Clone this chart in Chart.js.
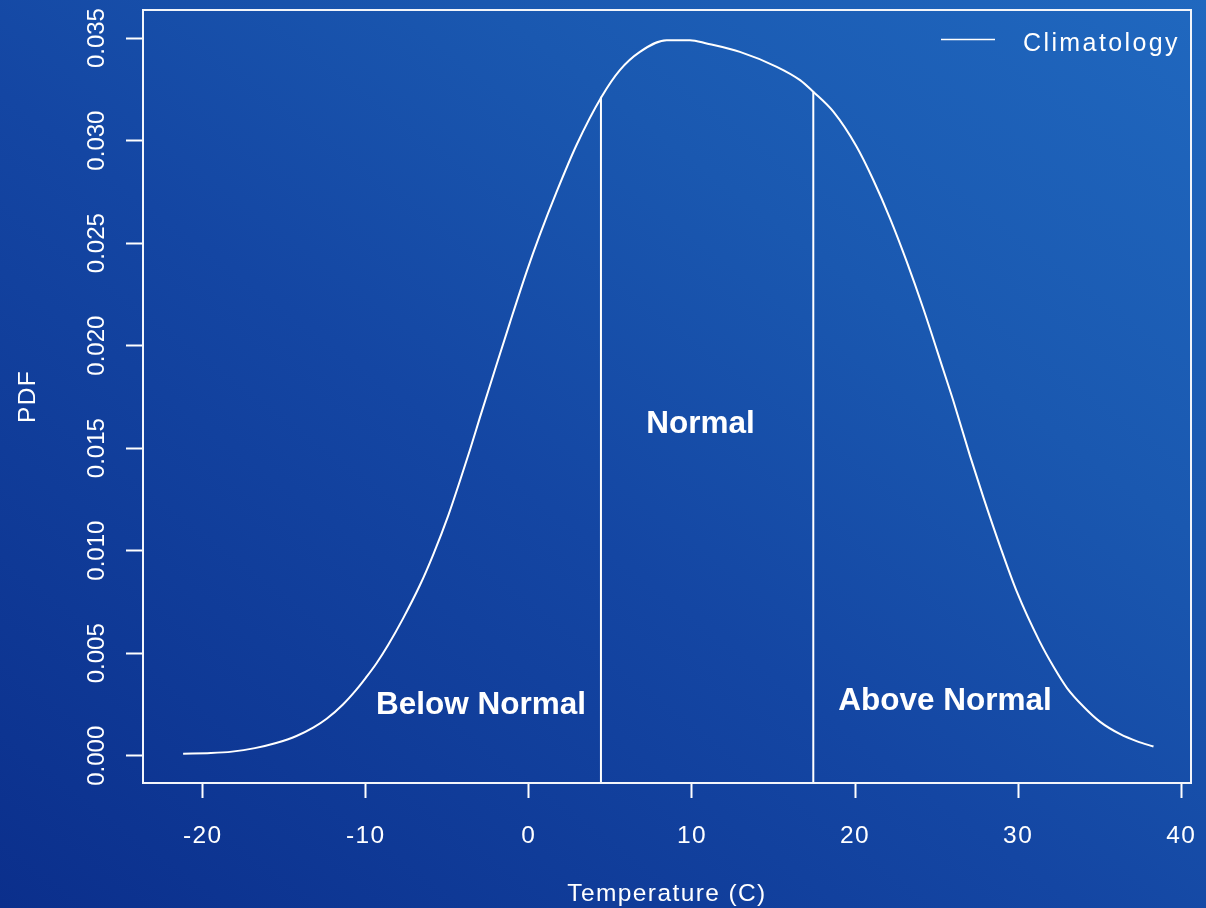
<!DOCTYPE html>
<html>
<head>
<meta charset="utf-8">
<script src="https://cdn.jsdelivr.net/npm/chart.js@4/dist/chart.umd.min.js"></script>
<style>
  html, body { margin: 0; padding: 0; width: 1206px; height: 908px; overflow: hidden; }
  body { background: linear-gradient(to top right, #0b2f8c 0%, #1446a3 45%, #1a58b0 70%, #2068bf 100%); }
  canvas { display: block; }
</style>
</head>
<body>
<canvas id="c" width="1206" height="908"></canvas>
<script>
// ---- data ----
const temps = [-21.2,-19.5,-18.2,-16.8,-15.5,-14.25,-13.2,-12.4,-11.4,-10.6,-10.0,-9.35,-8.63,-7.71,-6.69,-5.87,-4.95,-4.23,-3.62,-3.0,-2.09,-1.17,-0.14,0.67,1.7,2.93,4.46,5.58,6.81,8.45,9.88,10.9,12.94,15.2,16.63,17.44,18.67,20.1,21.12,22.15,23.17,24.19,25.42,26.03,27.06,27.87,28.9,29.92,31.3,32.2,33.0,34.0,35.03,36.26,37.3,38.3];
const pdf = [0.0001,0.00013,0.0002,0.00037,0.00062,0.00096,0.00138,0.0018,0.0025,0.0032,0.0038,0.0045,0.0054,0.0067,0.0083,0.0098,0.0117,0.0134,0.0149,0.0165,0.0188,0.0211,0.0236,0.0254,0.0275,0.0298,0.03214,0.03344,0.03433,0.0349,0.0349,0.03474,0.03433,0.0336,0.03295,0.03238,0.03141,0.0297,0.02808,0.0262,0.0241,0.0218,0.0188,0.0173,0.0146,0.0126,0.0102,0.0080,0.0056,0.0043,0.0033,0.0024,0.00165,0.00105,0.0007,0.00045];
const seriesName = 'Climatology';
const cutoffTemps = [4.42, 17.44];
const cutoffTops = [0.03214, 0.03238];
const categoryLabels = ['Below Normal', 'Normal', 'Above Normal'];
const categoryTemps = [-2.94, 10.52, 25.52];
const categoryPdf = [0.00244, 0.01616, 0.00267];
const xTickValues = [-20, -10, 0, 10, 20, 30, 40];
const xTickLabels = ['-20', '-10', '0', '10', '20', '30', '40'];
const yTickValues = [0, 0.005, 0.010, 0.015, 0.020, 0.025, 0.030, 0.035];
const yTickLabels = ['0.000', '0.005', '0.010', '0.015', '0.020', '0.025', '0.030', '0.035'];
const xTitle = 'Temperature (C)';
const yTitle = 'PDF';
const xRange = [-23.66, 40.6];
const yRange = [-0.00133, 0.03637];

const FONT = '"Liberation Sans", Arial, Helvetica, sans-serif';
const WHITE = '#ffffff';

const datasets = [{
  label: seriesName,
  data: temps.map((t, i) => ({ x: t, y: pdf[i] })),
  borderColor: WHITE,
  borderWidth: 2,
  pointRadius: 0,
  cubicInterpolationMode: 'monotone',
  fill: false
}];
cutoffTemps.forEach((c, i) => {
  datasets.push({
    label: 'cutoff' + i,
    data: [{ x: c, y: yRange[0] }, { x: c, y: cutoffTops[i] }],
    borderColor: WHITE,
    borderWidth: 2,
    pointRadius: 0,
    fill: false
  });
});

const decor = {
  id: 'decor',
  beforeDraw(chart) {
    chart.ctx.letterSpacing = '1.4px';
  },
  afterDraw(chart) {
    const ctx = chart.ctx;
    const a = chart.chartArea;
    const xs = chart.scales.x, ys = chart.scales.y;
    ctx.save();
    // box
    ctx.strokeStyle = '#f2f5fb';
    ctx.lineWidth = 2;
    ctx.strokeRect(a.left, a.top, a.right - a.left, a.bottom - a.top);
    // y tick labels, rotated as in the reference
    ctx.fillStyle = WHITE;
    ctx.letterSpacing = '0px';
    ctx.font = '24px ' + FONT;
    ctx.textAlign = 'center';
    ctx.textBaseline = 'middle';
    yTickValues.forEach((v, i) => {
      const py = ys.getPixelForValue(v);
      ctx.save();
      ctx.translate(a.left - 46, py);
      ctx.rotate(-Math.PI / 2);
      ctx.fillText(yTickLabels[i], 0, 0);
      ctx.restore();
    });
    // category annotations
    ctx.font = 'bold 31.5px ' + FONT;
    categoryLabels.forEach((t, i) => {
      ctx.fillText(t, xs.getPixelForValue(categoryTemps[i]), ys.getPixelForValue(categoryPdf[i]));
    });
    // legend
    ctx.strokeStyle = WHITE;
    ctx.lineWidth = 1.5;
    ctx.beginPath();
    ctx.moveTo(a.right - 250, a.top + 29.5);
    ctx.lineTo(a.right - 196, a.top + 29.5);
    ctx.stroke();
    ctx.font = '25px ' + FONT;
    ctx.letterSpacing = '2.4px';
    ctx.textAlign = 'left';
    ctx.fillText(seriesName, a.right - 168, a.top + 34);
    ctx.restore();
  }
};

new Chart(document.getElementById('c'), {
  type: 'line',
  data: { datasets },
  options: {
    responsive: false,
    animation: false,
    devicePixelRatio: 1,
    layout: { padding: { top: 10, right: 15, left: 0, bottom: 0 } },
    plugins: { legend: { display: false }, tooltip: { enabled: false } },
    scales: {
      x: {
        type: 'linear',
        min: xRange[0], max: xRange[1],
        afterBuildTicks: (s) => { s.ticks = xTickValues.map(v => ({ value: v })); },
        afterFit: (s) => { s.height = 125; s.paddingLeft = 0; s.paddingRight = 0; },
        border: { display: false },
        grid: { drawOnChartArea: false, drawTicks: true, tickLength: 15, tickWidth: 2, tickColor: WHITE, color: WHITE },
        ticks: {
          color: WHITE,
          font: { family: FONT, size: 24.5 },
          padding: 23.5,
          maxRotation: 0, minRotation: 0,
          callback: (v) => { const i = xTickValues.indexOf(v); return i >= 0 ? xTickLabels[i] : ''; }
        },
        title: { display: true, text: xTitle, color: WHITE, font: { family: FONT, size: 24.5 }, padding: { top: 0, bottom: -1 } }
      },
      y: {
        type: 'linear',
        min: yRange[0], max: yRange[1],
        afterBuildTicks: (s) => { s.ticks = yTickValues.map(v => ({ value: v })); },
        afterFit: (s) => { s.width = 143; s.paddingTop = 0; s.paddingBottom = 0; },
        border: { display: false },
        grid: { drawOnChartArea: false, drawTicks: true, tickLength: 17, tickWidth: 2, tickColor: WHITE, color: WHITE },
        ticks: { display: false },
        title: { display: true, text: yTitle, color: WHITE, font: { family: FONT, size: 24.5 }, padding: { top: 14, bottom: 0 } }
      }
    }
  },
  plugins: [decor]
});
</script>
</body>
</html>
